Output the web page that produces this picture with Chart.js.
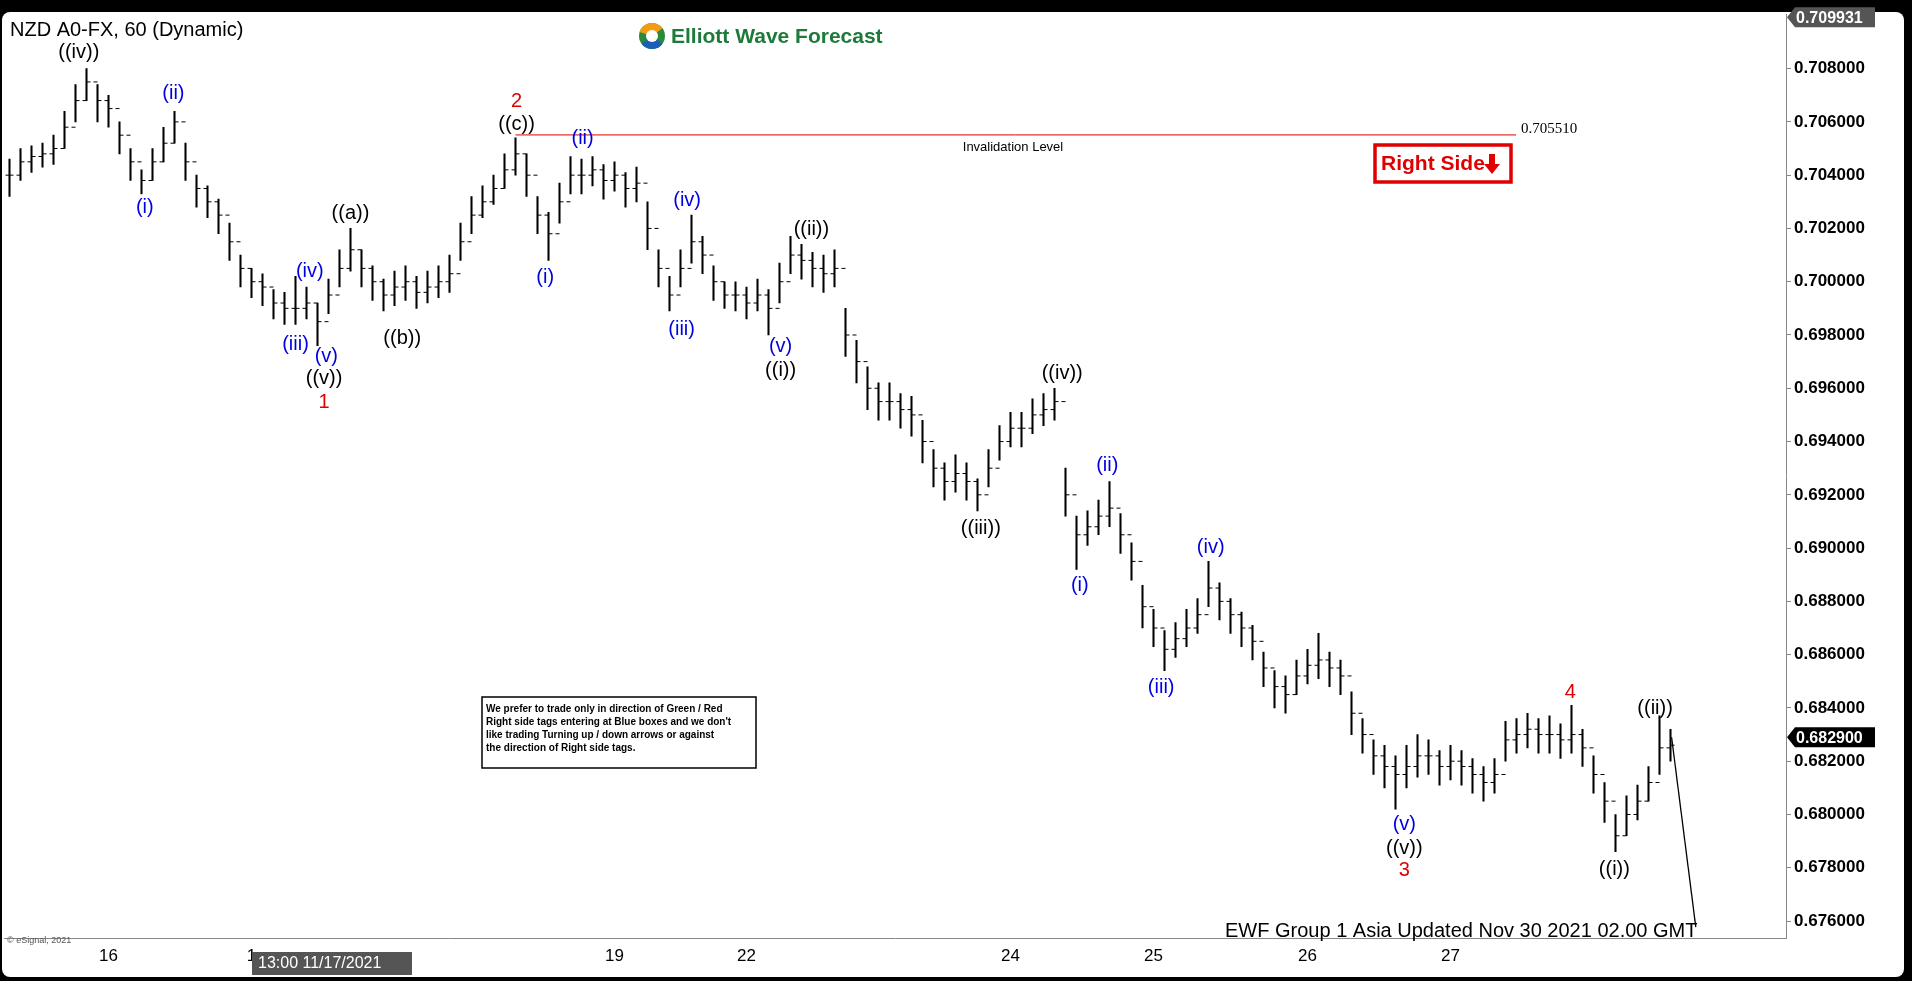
<!DOCTYPE html>
<html><head><meta charset="utf-8">
<script src="https://cdn.jsdelivr.net/npm/chart.js@4"></script>
<style>html,body{margin:0;padding:0;background:#000;overflow:hidden}#w{width:1912px;height:981px;position:relative}</style>
</head><body><div id="w"><canvas id="c" width="1912" height="981"></canvas></div>
<script>
const highs=[.7046,.7050,.7051,.7052,.7055,.7064,.7074,.7080,.7074,.7070,
.7060,.7050,.7042,.7050,.7058,.7064,.7052,.7040,.7036,.7031,
.7022,.7010,.7005,.7003,.6997,.6996,.7002,.6998,.6992,.7001,
.7012,.7020,.7012,.7006,.7001,.7004,.7006,.7002,.7004,.7006,
.7010,.7022,.7032,.7036,.7040,.7048,.7054,.7048,.7032,.7026,
.7037,.7047,.7046,.7047,.7044,.7045,.7041,.7043,.7030,.7012,
.7002,.7012,.7025,.7017,.7006,.7000,.7000,.6998,.7001,.6997,
.7007,.7017,.7014,.7011,.7010,.7012,.6990,.6978,.6968,.6962,
.6962,.6958,.6957,.6948,.6937,.6932,.6935,.6932,.6926,.6937,
.6946,.6951,.6951,.6956,.6958,.6960,.6930,.6912,.6914,.6918,
.6925,.6913,.6902,.6886,.6877,.6869,.6872,.6877,.6881,.6895,
.6887,.6881,.6876,.6871,.6861,.6854,.6852,.6858,.6862,.6868,
.6861,.6858,.6846,.6836,.6828,.6826,.6822,.6826,.6830,.6828,
.6824,.6826,.6824,.6821,.6818,.6821,.6835,.6836,.6838,.6836,
.6837,.6834,.6841,.6832,.6822,.6812,.6800,.6807,.6811,.6818,
.6837,.6832];
const lows=[.7032,.7038,.7041,.7043,.7044,.7050,.7060,.7068,.7060,.7058,
.7048,.7038,.7033,.7038,.7045,.7052,.7038,.7028,.7024,.7018,
.7008,.6998,.6994,.6991,.6986,.6984,.6984,.6986,.6976,.6988,
.6998,.7004,.6998,.6993,.6989,.6991,.6993,.6990,.6992,.6994,
.6996,.7008,.7018,.7024,.7029,.7035,.7040,.7032,.7018,.7008,
.7022,.7033,.7033,.7036,.7031,.7034,.7028,.7030,.7012,.6998,
.6989,.6998,.7007,.7003,.6993,.6990,.6989,.6986,.6989,.6980,
.6992,.7003,.7001,.6998,.6996,.6998,.6972,.6962,.6952,.6948,
.6948,.6945,.6942,.6932,.6923,.6918,.6921,.6918,.6914,.6923,
.6933,.6938,.6938,.6943,.6946,.6948,.6912,.6892,.6901,.6905,
.6908,.6898,.6888,.6870,.6863,.6854,.6859,.6863,.6868,.6878,
.6873,.6868,.6863,.6858,.6848,.6840,.6838,.6845,.6849,.6851,
.6848,.6845,.6830,.6823,.6815,.6810,.6802,.6810,.6814,.6815,
.6811,.6813,.6811,.6808,.6805,.6808,.6820,.6823,.6825,.6823,
.6823,.6821,.6823,.6818,.6808,.6797,.6786,.6792,.6798,.6805,
.6815,.6820];
const closes=[.7040,.7045,.7047,.7048,.7050,.7058,.7068,.7075,.7068,.7065,
.7055,.7045,.7038,.7045,.7052,.7060,.7045,.7035,.7030,.7025,
.7015,.7005,.7000,.6998,.6992,.6990,.6990,.6992,.6985,.6995,
.7005,.7012,.7005,.7000,.6995,.6998,.7000,.6996,.6998,.7000,
.7003,.7015,.7025,.7030,.7035,.7042,.7048,.7040,.7025,.7018,
.7030,.7040,.7040,.7042,.7038,.7040,.7035,.7037,.7020,.7005,
.6995,.7005,.7015,.7010,.7000,.6995,.6995,.6992,.6995,.6990,
.7000,.7010,.7008,.7005,.7003,.7005,.6980,.6970,.6960,.6955,
.6955,.6952,.6950,.6940,.6930,.6925,.6928,.6925,.6920,.6930,
.6940,.6945,.6945,.6950,.6952,.6955,.6920,.6905,.6908,.6912,
.6915,.6905,.6895,.6878,.6870,.6862,.6866,.6870,.6875,.6885,
.6880,.6875,.6870,.6865,.6855,.6848,.6845,.6852,.6856,.6858,
.6855,.6852,.6838,.6830,.6822,.6818,.6815,.6818,.6822,.6822,
.6818,.6820,.6818,.6815,.6812,.6815,.6828,.6830,.6832,.6830,
.6830,.6828,.6830,.6825,.6815,.6805,.6792,.6800,.6805,.6812,
.6825,.6826];
const yTicks=[0.676,0.678,0.680,0.682,0.684,0.686,0.688,0.690,0.692,0.694,0.696,0.698,0.700,0.702,0.704,0.706,0.708];
const dateTicks={9:'16',22:'1',55:'19',67:'22',91:'24',104:'25',118:'26',131:'27'};
const waveText=['((iv))','(i)','(ii)','(iii)','(iv)','(v)','((v))','1','((a))','((b))','2','((c))','(i)','(ii)','(iii)','(iv)','(v)','((i))','((ii))','((iii))','((iv))','(i)','(ii)','(iii)','(iv)','(v)','((v))','3','4','((ii))','((i))'];
const waveIdx=[6.3,12.3,14.9,26,27.3,28.8,28.6,28.6,31,35.7,46.1,46.1,48.7,52.1,61.1,61.6,70.1,70.1,72.9,88.3,95.7,97.3,99.8,104.7,109.2,126.8,126.8,126.8,141.9,149.6,145.9];
const wavePrice=[.70859,.70278,.70705,.69765,.70037,.6972,.69638,.69547,.70255,.69788,.70677,.70591,.70015,.70537,.69819,.70305,.69756,.69665,.70196,.69075,.69656,.68861,.69311,.68476,.69002,.67963,.67872,.6779,.68457,.68398,.67795];
const waveColor=['k','b','b','b','b','b','k','r','k','k','r','k','b','b','b','b','b','k','k','k','k','b','b','b','b','b','k','r','r','k','k'];
const invalidation=0.70551, lastPrice=0.6829, topPrice=0.709931;
const projIdx=[151.1,153.3], projPrice=[0.6829,0.67577];
const NCAT=162;
const labels=[];for(let i=0;i<NCAT;i++)labels.push(dateTicks[i]||'');
const colors={k:'#000',b:'#0000e0',r:'#e00000'};

const overlay={id:'ov',
beforeDraw(ch){const c=ch.ctx;c.save();c.fillStyle='#000';c.fillRect(0,0,1912,981);
 c.fillStyle='#fff';c.beginPath();c.roundRect(2,12,1902,965,8);c.fill();c.restore();},
afterDatasetsDraw(ch){const c=ch.ctx,x=ch.scales.x,y=ch.scales.y;c.save();
 c.strokeStyle='#000';c.lineWidth=1;
 for(let i=0;i<closes.length;i++){const px=x.getPixelForValue(i);
  const o=i>0?closes[i-1]:closes[i];
  c.beginPath();c.moveTo(px-4,y.getPixelForValue(o));c.lineTo(px,y.getPixelForValue(o));
  c.moveTo(px,y.getPixelForValue(closes[i]));c.lineTo(px+4,y.getPixelForValue(closes[i]));c.stroke();}
 c.lineWidth=1.3;c.beginPath();c.moveTo(x.getPixelForValue(projIdx[0]),y.getPixelForValue(projPrice[0]));
 c.lineTo(x.getPixelForValue(projIdx[1]),y.getPixelForValue(projPrice[1]));c.stroke();
 const iy=y.getPixelForValue(invalidation);
 c.strokeStyle='#e00000';c.lineWidth=1;c.beginPath();c.moveTo(x.getPixelForValue(46),iy);c.lineTo(1516,iy);c.stroke();
 c.fillStyle='#000';c.font='15px "Liberation Serif"';c.textBaseline='middle';c.fillText('0.705510',1521,iy-6);
 c.font='13px "Liberation Sans"';c.textAlign='center';c.fillText('Invalidation Level',1013,iy+12);
 c.font='20px "Liberation Sans"';c.textBaseline='middle';
 waveText.forEach((t,k)=>{c.fillStyle=colors[waveColor[k]];c.fillText(t,x.getPixelForValue(waveIdx[k]),y.getPixelForValue(wavePrice[k]));});
 c.strokeStyle='#e00000';c.lineWidth=3.5;c.strokeRect(1375,145,136,37);
 c.fillStyle='#e00000';c.font='bold 21px "Liberation Sans Narrow","Liberation Sans"';c.textAlign='left';c.fillText('Right Side',1381,164);
 c.beginPath();c.moveTo(1489,154);c.lineTo(1495,154);c.lineTo(1495,164);c.lineTo(1500,164);c.lineTo(1492,174);c.lineTo(1484,164);c.lineTo(1489,164);c.closePath();c.fill();
 c.fillStyle='#000';c.font='20px "Liberation Sans"';c.textAlign='left';c.fillText('NZD A0-FX, 60 (Dynamic)',10,30);
 const lx=652,ly=36;c.fillStyle='#2a8a3a';c.beginPath();c.arc(lx,ly,13,0,Math.PI*2);c.fill();
 c.fillStyle='#f39c12';c.beginPath();c.arc(lx,ly,13,-Math.PI*0.9,-Math.PI*0.2);c.lineTo(lx,ly);c.fill();
 c.fillStyle='#1a5fb4';c.beginPath();c.arc(lx,ly,13,Math.PI*0.2,Math.PI*0.8);c.lineTo(lx,ly);c.fill();
 c.fillStyle='#fff';c.beginPath();c.arc(lx,ly,6,0,Math.PI*2);c.fill();
 c.fillStyle='#1d7a3a';c.font='bold 21px "Liberation Sans"';c.fillText('Elliott Wave Forecast',671,37);
 c.strokeStyle='#000';c.lineWidth=1.5;c.strokeRect(482,697,274,71);
 c.font='bold 10px "Liberation Sans"';c.fillStyle='#000';
 ['We prefer to trade only in direction of Green / Red','Right side tags entering at Blue boxes and we don\'t','like trading Turning up / down arrows or against','the direction of Right side tags.'].forEach((t,k)=>c.fillText(t,486,709+k*13));
 c.font='20px "Liberation Sans"';c.fillText('EWF Group 1 Asia Updated Nov 30 2021 02.00 GMT',1225,931);
 c.font='9px "Liberation Sans"';c.fillStyle='#555';c.fillText('© eSignal, 2021',7,941);
 const tag=(p,bg)=>{const py=y.getPixelForValue(p);c.fillStyle=bg;c.beginPath();c.moveTo(1787,py);c.lineTo(1795,py-10);c.lineTo(1875,py-10);c.lineTo(1875,py+10);c.lineTo(1795,py+10);c.closePath();c.fill();
  c.fillStyle='#fff';c.font='bold 16px "Liberation Sans"';c.fillText(p.toFixed(6),1796,py+1);};
 tag(lastPrice,'#000');tag(topPrice,'#555');
 c.fillStyle='#555';c.fillRect(252,952,160,23);c.fillStyle='#fff';c.font='16px "Liberation Sans"';c.fillText('13:00 11/17/2021',258,964);
 c.restore();}};

new Chart(document.getElementById('c'),{type:'bar',
data:{labels,datasets:[{data:highs.map((h,i)=>[lows[i],h]),backgroundColor:'#000',borderWidth:0,barThickness:1.4}]},
options:{responsive:false,animation:false,events:[],
 layout:{padding:{left:4,top:14,right:0,bottom:6}},
 plugins:{legend:{display:false},tooltip:{enabled:false}},
 scales:{
  x:{grid:{display:false,drawTicks:false},border:{color:'#888'},ticks:{autoSkip:false,maxRotation:0,color:'#000',font:{size:17,family:'Liberation Sans'},padding:8}},
  y:{position:'right',min:0.67534,max:0.71005,afterFit(s){s.width=126;},
   afterBuildTicks(s){s.ticks=yTicks.map(v=>({value:v}));},
   grid:{drawOnChartArea:false,tickLength:5,color:'#888'},border:{color:'#888'},
   ticks:{autoSkip:false,callback:v=>v.toFixed(6),color:'#000',font:{size:17,weight:'bold',family:'Liberation Sans'},padding:3}}}},
plugins:[overlay]});
</script></body></html>
